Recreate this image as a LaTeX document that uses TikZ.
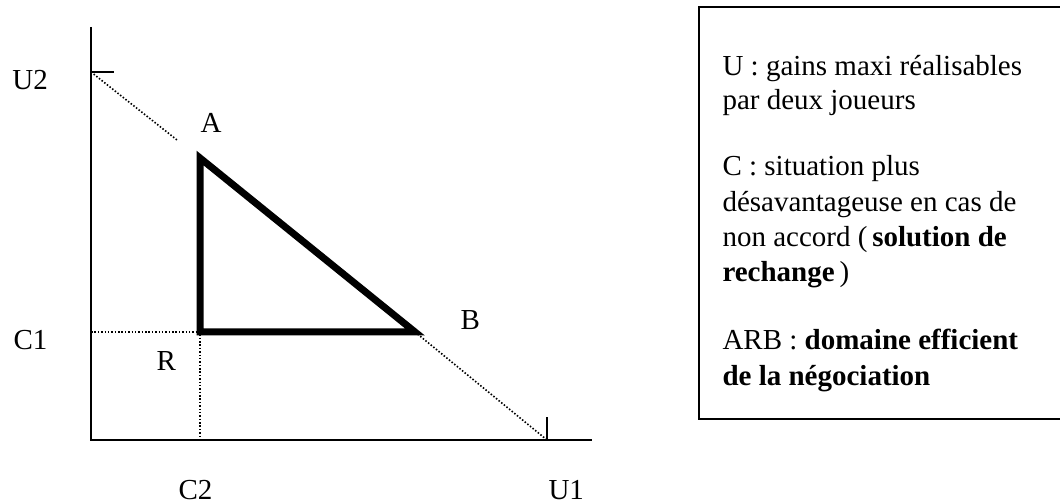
\documentclass[tikz,border=0pt]{standalone}
\usepackage{fontspec}
\setmainfont{Liberation Serif}
\usepackage{tikz}
\usetikzlibrary{calc}

\begin{document}
\begin{tikzpicture}[x=0.4pt,y=-0.4pt,
    lbl/.style={anchor=base west,inner sep=0pt,font=\fontsize{11.6}{14.4}\selectfont},
    axisline/.style={line width=0.8pt},
    dotline/.style={line width=0.65pt,dash pattern=on 0.6pt off 0.75pt},
    effline/.style={line width=2.8pt,line join=miter}]
  \useasboundingbox (0,0) rectangle (1060,504);
  % Axes
  \coordinate (ytop) at (91,27);
  \coordinate (O) at (91,440);
  \coordinate (xend) at (592,440);
  \draw[axisline] (ytop) -- (O) -- (xend);
  % Ticks for U2 and U1
  \coordinate (u2) at (91,72);
  \coordinate (u2t) at (114,72);
  \coordinate (u1) at (547,440);
  \coordinate (u1t) at (547,417);
  \draw[axisline] (u2) -- (u2t);
  \draw[axisline] (u1) -- (u1t);
  % Triangle ARB
  \coordinate (A) at (200,158);
  \coordinate (R) at (200,332);
  \coordinate (B) at (415,332);
  \coordinate (c1) at (91,332);
  \coordinate (c2) at (200,440);
  \coordinate (aend) at (177,140);
  % Dotted guides
  \draw[dotline] (u2) -- (aend);
  \draw[dotline] (B) -- (u1);
  \draw[dotline] (c1) -- (R) -- (c2);
  \draw[effline] (A) -- (R) -- (B) -- cycle;
  % Labels
  \node[lbl] (labU2) at (12,90) {U2};
  \node[lbl] (labC1) at (13,350) {C1};
  \node[lbl] (labR) at (156,371) {R};
  \node[lbl] (labC2) at (178,500) {C2};
  \node[lbl] (labU1) at (548,500) {U1};
  \node[lbl] (labA) at (200,133) {A};
  \node[lbl] (labB) at (460,330) {B};
  % Legend box
  \draw[axisline] (699,7) rectangle (1064,419);
  \node[lbl] (l1) at (722,76) {U : gains maxi réalisables};
  \node[lbl] (l2) at (722,110) {par deux joueurs};
  \node[lbl] (l3) at (722,176) {C : situation plus};
  \node[lbl] (l4) at (722,212) {désavantageuse en cas de};
  \node[lbl] (l5) at (722,247) {non accord (\,\textbf{solution de}};
  \node[lbl] (l6) at (722,282) {\textbf{rechange}\,)};
  \node[lbl] (l7) at (722,350) {ARB : \textbf{domaine efficient}};
  \node[lbl] (l8) at (722,386) {\textbf{de la négociation}};
\end{tikzpicture}
\end{document}
